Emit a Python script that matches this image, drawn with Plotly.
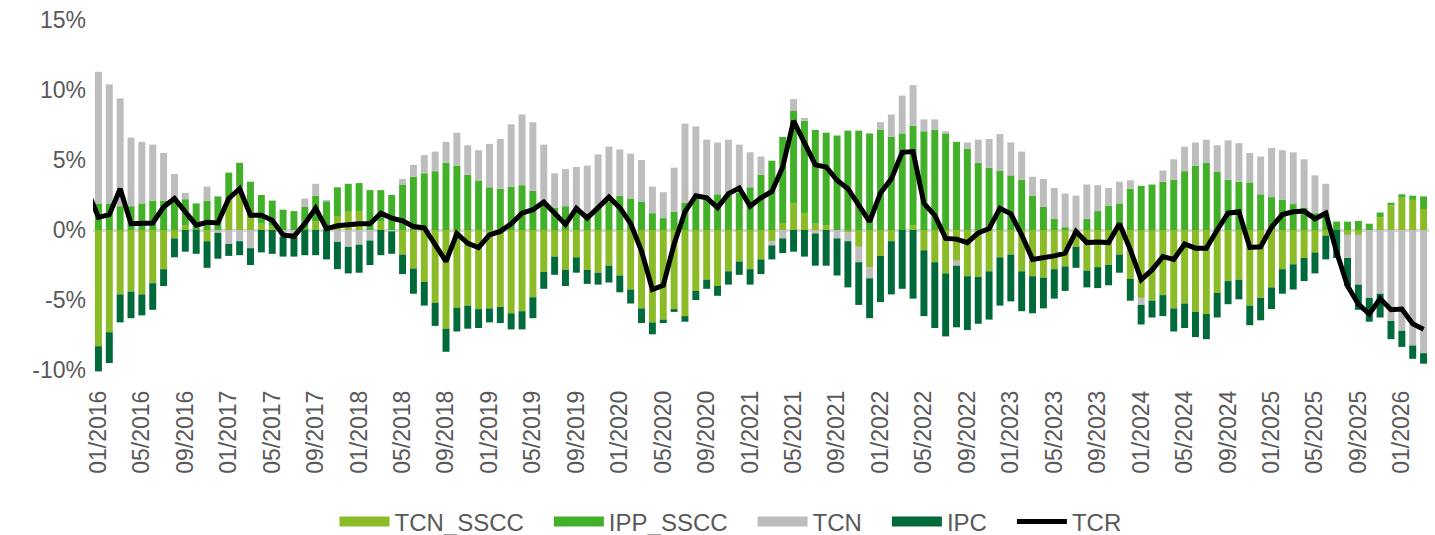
import plotly.graph_objects as go
import pandas as pd

# Months: 12/2015 (line only) .. 03/2026
months = pd.date_range("2015-12-01", periods=124, freq="MS").strftime("%m/%Y").tolist()

tcn_sscc = [None,
    -8.3, -7.3, -4.6, -4.4, -4.6, -3.8, -2.8, -0.6, 0.35, 0, -0.8, 0,
    2.1, 3.1, 0.95, 0.45, 0.3, 0, 0, 0, 0.6, 0, 1.0, 1.3,
    1.35, 0, 0.6, 0, -1.75, -2.75, -3.7, -5.2, -7.05, -5.55, -5.4, -5.65,
    -5.6, -5.5, -5.95, -5.8, -4.8, -3.0, -1.9, -2.85, -1.95, -2.85, -3.05, -2.55,
    -3.25, -4.25, -5.6, -6.6, -6.4, -5.65, -6.15, -4.35, -3.55, -4.0, -2.95, -2.25,
    -2.8, -2.1, -0.8, 0.5, 1.9, 1.2, 0.45, 0.35, 0, -0.15, -1.2, -2.65,
    -1.85, -0.8, 0, 0.35, -1.45, -2.3, -3.1, -2.2, -3.3, -3.35, -2.95, -1.95,
    -1.75, -2.95, -3.3, -3.4, -2.8, -2.6, -1.2, -2.9, -2.65, -2.5, -1.75, -3.5,
    -4.85, -5.05, -4.65, -5.6, -5.25, -5.85, -6.0, -4.5, -3.65, -3.55, -5.4, -4.85,
    -4.1, -2.8, -2.45, -2.0, -1.6, -0.4, 0, -0.35, -0.35, 0, 0.9, 1.75,
    2.3, 2.15, 1.5]

ipp_sscc = [None,
    1.9, 1.9, 1.7, 1.7, 1.9, 2.1, 2.1, 2.1, 1.85, 1.9, 2.1, 2.4,
    2.0, 1.7, 2.5, 2.05, 1.8, 1.45, 1.35, 1.65, 1.85, 2.05, 2.05, 2.0,
    2.0, 2.85, 2.25, 2.5, 3.25, 3.8, 4.05, 4.2, 4.8, 4.6, 3.95, 3.5,
    3.05, 2.95, 3.1, 3.2, 2.8, 1.8, 1.6, 1.7, 1.4, 1.2, 1.7, 2.0,
    2.45, 2.25, 2.0, 1.2, 0.85, 1.3, 1.95, 2.3, 2.3, 2.55, 2.5, 2.65,
    3.05, 3.95, 4.95, 6.15, 6.6, 6.6, 6.7, 6.6, 6.75, 7.1, 7.1, 6.9,
    7.15, 6.65, 6.9, 7.1, 7.05, 7.15, 6.9, 6.3, 5.8, 4.8, 4.45, 4.25,
    3.9, 3.6, 2.45, 1.65, 0.8, 0.2, 0, 0.8, 1.35, 1.75, 1.9, 2.95,
    3.15, 3.25, 3.45, 3.6, 4.2, 4.6, 4.8, 4.15, 3.6, 3.45, 3.4, 2.55,
    2.35, 2.15, 1.85, 1.6, 1.2, 1.2, 0.6, 0.6, 0.65, 0.45, 0.35, 0.2,
    0.25, 0.3, 0.9]

tcn = [None,
    9.4, 8.5, 7.7, 4.9, 4.4, 4.0, 3.4, 1.9, 0.45, 0, 1.0, -0.2,
    -1.0, -0.8, -1.3, 0, 0, -0.5, -0.5, 0.6, 0.85, 0.1, -0.85, -1.2,
    -1.05, -0.75, 0, -0.1, 0.4, 0.85, 1.3, 1.4, 1.5, 2.35, 2.1, 2.2,
    3.1, 3.55, 4.45, 5.05, 4.9, 4.3, 2.45, 2.65, 3.1, 3.4, 3.7, 3.95,
    3.3, 3.2, 3.0, 1.9, 1.85, 3.15, 5.65, 5.1, 4.15, 3.7, 3.95, 3.45,
    2.5, 1.3, -0.3, -0.6, 0.85, 0.2, -0.25, 0, -0.6, -0.65, -1.1, -0.8,
    0.55, 1.6, 2.7, 2.9, 0.85, 0.75, 0.15, -0.35, 0.45, 1.65, 2.05, 2.6,
    2.35, 2.0, 1.35, 2.0, 2.2, 2.4, 2.45, 2.45, 1.85, 1.25, 1.55, 0.6,
    -0.5, 0, 0.8, 1.45, 1.75, 1.65, 1.65, 1.9, 2.8, 2.75, 2.1, 2.7,
    3.5, 3.55, 3.7, 3.45, 2.7, 2.1, 0, -1.65, -3.55, -4.85, -4.55, -6.5,
    -7.2, -8.25, -8.8]

ipc = [None,
    -1.8, -2.2, -2.0, -1.9, -1.5, -1.9, -1.2, -1.35, -1.55, -1.7, -1.9, -1.85,
    -0.85, -1.0, -1.2, -1.6, -1.7, -1.4, -1.4, -1.8, -1.8, -2.1, -1.95, -1.9,
    -2.0, -1.75, -1.8, -1.6, -1.4, -1.8, -1.7, -1.65, -1.65, -1.7, -1.65, -1.35,
    -1.0, -1.15, -1.15, -1.3, -1.5, -1.2, -1.3, -1.15, -1.1, -1.0, -0.85, -1.2,
    -1.2, -1.0, -1.05, -0.85, -0.25, -0.2, -0.4, -0.65, -0.65, -0.7, -0.95, -0.95,
    -1.1, -1.05, -1.0, -1.05, -1.55, -1.9, -2.3, -2.55, -2.65, -3.3, -3.05, -2.85,
    -3.3, -3.8, -4.2, -4.9, -4.7, -4.7, -4.5, -4.4, -3.85, -3.35, -3.45, -3.45,
    -3.35, -2.85, -2.65, -2.2, -2.1, -1.75, -1.5, -1.2, -1.5, -1.45, -1.3, -1.55,
    -1.4, -1.2, -1.5, -1.65, -1.75, -1.8, -1.8, -1.75, -1.65, -1.4, -1.4, -1.6,
    -1.55, -1.75, -1.8, -1.65, -1.5, -1.7, -2.0, -2.0, -1.8, -1.7, -1.7, -1.3,
    -1.15, -0.95, -0.75]

tcr = [2.8,
    0.9, 1.1, 2.95, 0.45, 0.45, 0.5, 1.65, 2.25, 1.3, 0.35, 0.55, 0.5,
    2.25, 2.95, 1.05, 1.05, 0.7, -0.35, -0.45, 0.45, 1.55, 0.1, 0.3, 0.4,
    0.45, 0.45, 1.2, 0.85, 0.65, 0.25, 0.15, -1.05, -2.25, -0.25, -0.95, -1.25,
    -0.35, -0.1, 0.45, 1.2, 1.45, 2.0, 1.2, 0.4, 1.55, 0.85, 1.6, 2.35,
    1.6, 0.45, -1.5, -4.25, -3.95, -1.0, 1.3, 2.45, 2.3, 1.6, 2.6, 3.0,
    1.7, 2.3, 2.75, 4.5, 7.8, 6.2, 4.65, 4.5, 3.55, 2.95, 1.75, 0.6,
    2.65, 3.65, 5.55, 5.6, 1.9, 1.05, -0.6, -0.65, -0.9, -0.2, 0.1, 1.55,
    1.15, -0.35, -2.1, -2.0, -1.85, -1.65, -0.1, -0.9, -0.85, -0.9, 0.45, -1.4,
    -3.55, -2.85, -1.9, -2.1, -1.0, -1.3, -1.3, 0.0, 1.2, 1.3, -1.25, -1.2,
    0.2, 1.1, 1.3, 1.35, 0.8, 1.2, -1.6, -4.0, -5.3, -6.0, -4.9, -5.7,
    -5.65, -6.7, -7.1]

y_ticks = [-10, -5, 0, 5, 10, 15]
y_ticktext = ["-10%", "-5%", "0%", "5%", "10%", "15%"]

series = [
    ("TCN_SSCC", tcn_sscc, "#8BBB26"),
    ("IPP_SSCC", ipp_sscc, "#43B02A"),
    ("TCN", tcn, "#BDBDBD"),
    ("IPC", ipc, "#006A3A"),
]

x = list(range(len(months)))
TXT = "#595959"
FONT = "Liberation Sans, Arial, sans-serif"
PAD = "\u00a0\u00a0\u00a0"

fig = go.Figure()
for name, vals, col in series:
    fig.add_trace(go.Bar(x=x, y=vals, name=name, marker=dict(color=col, line=dict(width=0)),
                         showlegend=False, legendgroup=name))
    # legend swatch (wide rectangle like the original)
    fig.add_trace(go.Scatter(x=[None], y=[None], mode="lines", name=name + PAD, legendgroup=name,
                             line=dict(color=col, width=10)))

fig.add_trace(go.Scatter(x=x, y=tcr, mode="lines", name="TCR",
                         line=dict(color="#000000", width=5)))

ymin, ymax = -10.5, 15
tick_between = [i + 0.5 for i in range(0, len(months), 4)]

fig.update_layout(
    width=1435, height=535,
    margin=dict(l=93, r=6, t=20, b=158, autoexpand=False),
    paper_bgcolor="white", plot_bgcolor="white",
    barmode="relative", bargap=0.36,
    font=dict(family=FONT, color=TXT, size=23),
    hovermode=False,
    xaxis=dict(range=[0.5, len(months) - 0.5], tickmode="array", automargin=False,
               tickvals=x[1::4], ticktext=months[1::4], tickangle=-90,
               showgrid=False, zeroline=False, showline=False, ticks="", ticklabelstandoff=8,
               tickfont=dict(size=23, color=TXT, family=FONT)),
    xaxis2=dict(overlaying="x", anchor="free", automargin=False,
                position=(0 - ymin) / (ymax - ymin),
                range=[0.5, len(months) - 0.5], tickmode="array", tickvals=tick_between,
                ticks="outside", ticklen=8, tickwidth=2, tickcolor="#D9D9D9",
                showticklabels=False, showgrid=False, zeroline=False, showline=False),
    yaxis=dict(range=[ymin, ymax], tickmode="array", tickvals=y_ticks, ticktext=y_ticktext,
               automargin=False,
               showgrid=False, zeroline=True, zerolinecolor="#D9D9D9", zerolinewidth=3,
               showline=False, ticks="", ticklabelstandoff=6,
               tickfont=dict(size=23, color=TXT, family=FONT)),
    legend=dict(orientation="h", xref="container", yref="container",
                x=730.5 / 1435, xanchor="center", y=(535 - 522) / 535, yanchor="middle",
                font=dict(size=24, color=TXT, family=FONT), itemwidth=50,
                traceorder="normal", bgcolor="rgba(0,0,0,0)"),
)

fig.write_html("out.html", config={"displayModeBar": False, "staticPlot": True},
               post_script="document.body.style.margin='0px';")
